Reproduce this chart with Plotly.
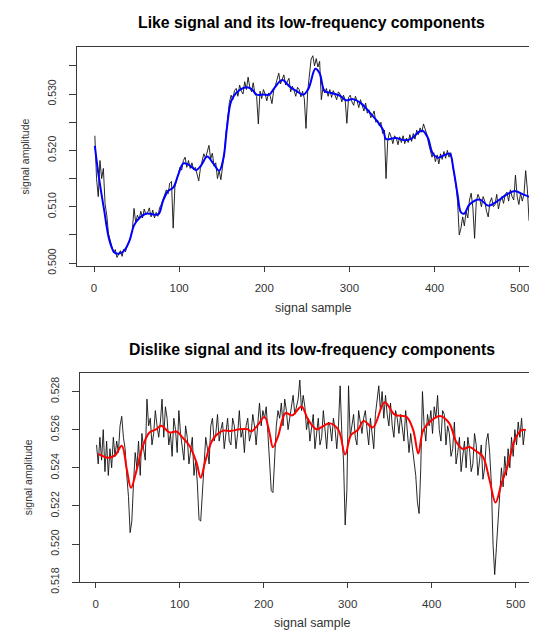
import plotly.graph_objects as go

# ---------------- data ----------------
sample_idx = list(range(1, 512, 2))

like_signal = [
    0.5226, 0.5150, 0.5118, 0.5182, 0.5150, 0.5168, 0.5105, 0.5085, 0.5052, 0.5040,
    0.5028, 0.5018, 0.5024, 0.5010, 0.5016, 0.5022, 0.5012, 0.5025, 0.5020, 0.5032,
    0.5036, 0.5045, 0.5058, 0.5097, 0.5072, 0.5085, 0.5078, 0.5092, 0.5080, 0.5096,
    0.5086, 0.5090, 0.5098, 0.5082, 0.5094, 0.5080, 0.5090, 0.5083, 0.5098, 0.5104,
    0.5112, 0.5120, 0.5130, 0.5123, 0.5142, 0.5145, 0.5062, 0.5135, 0.5148, 0.5160,
    0.5170, 0.5165, 0.5182, 0.5188, 0.5170, 0.5182, 0.5168, 0.5178, 0.5166, 0.5170,
    0.5158, 0.5146, 0.5168, 0.5182, 0.5194, 0.5186, 0.5200, 0.5209, 0.5185, 0.5195,
    0.5172, 0.5178, 0.5150, 0.5164, 0.5148, 0.5168, 0.5195, 0.5230, 0.5262, 0.5285,
    0.5298, 0.5290, 0.5306, 0.5310, 0.5296, 0.5316, 0.5305, 0.5300, 0.5322, 0.5308,
    0.5330, 0.5312, 0.5304, 0.5320, 0.5300, 0.5296, 0.5247, 0.5305, 0.5292, 0.5308,
    0.5300, 0.5288, 0.5302, 0.5296, 0.5283, 0.5306, 0.5315, 0.5326, 0.5337, 0.5318,
    0.5328, 0.5334, 0.5316, 0.5322, 0.5328, 0.5304, 0.5314, 0.5306, 0.5296, 0.5312,
    0.5308, 0.5295, 0.5305, 0.5292, 0.5239, 0.5305, 0.5330, 0.5362, 0.5368, 0.5350,
    0.5363, 0.5348, 0.5358, 0.5290, 0.5312, 0.5302, 0.5310, 0.5296, 0.5308, 0.5294,
    0.5306, 0.5296, 0.5290, 0.5304, 0.5300, 0.5286, 0.5298, 0.5290, 0.5248, 0.5294,
    0.5298, 0.5286, 0.5280, 0.5296, 0.5288, 0.5276, 0.5290, 0.5280, 0.5270, 0.5284,
    0.5266, 0.5272, 0.5258, 0.5262, 0.5270, 0.5250, 0.5254, 0.5244, 0.5250, 0.5230,
    0.5236, 0.5150, 0.5218, 0.5232, 0.5224, 0.5212, 0.5226, 0.5222, 0.5210, 0.5224,
    0.5214, 0.5226, 0.5212, 0.5222, 0.5214, 0.5228, 0.5216, 0.5230, 0.5220, 0.5236,
    0.5228, 0.5240, 0.5232, 0.5247, 0.5236, 0.5228, 0.5212, 0.5200, 0.5188, 0.5196,
    0.5180, 0.5192, 0.5176, 0.5194, 0.5184, 0.5198, 0.5186, 0.5200, 0.5188, 0.5196,
    0.5180, 0.5158, 0.5140, 0.5110, 0.5050, 0.5062, 0.5082, 0.5066, 0.5092, 0.5080,
    0.5112, 0.5124, 0.5098, 0.5044, 0.5110, 0.5122, 0.5114, 0.5100, 0.5118, 0.5110,
    0.5092, 0.5082, 0.5108, 0.5116, 0.5100, 0.5104, 0.5122, 0.5096, 0.5110, 0.5118,
    0.5106, 0.5122, 0.5126, 0.5110, 0.5130, 0.5118, 0.5112, 0.5156, 0.5118, 0.5104,
    0.5124, 0.5110, 0.5122, 0.5164, 0.5130, 0.5075,
]

like_smooth_idx = [1, 5, 12, 18, 24, 30, 36, 42, 47, 54, 62, 71, 76, 81, 87, 93, 99,
                   105, 112, 120, 126, 133, 140, 147, 152, 156, 161, 167, 179, 185,
                   191, 199, 206, 212, 221, 230, 238, 246, 252, 260, 265, 271, 279,
                   289, 296, 304, 314, 324, 334, 340, 343, 354, 365, 373, 381, 386,
                   392, 398, 404, 412, 418, 422, 427, 431, 435, 441, 453, 463, 473,
                   484, 494, 504, 512]
like_smooth = [0.5208, 0.5160, 0.5093, 0.5041, 0.5019, 0.5017, 0.5023, 0.5041, 0.5067,
               0.5081, 0.5088, 0.5086, 0.5087, 0.5110, 0.5128, 0.5134, 0.5157, 0.5177,
               0.5174, 0.5165, 0.5174, 0.5189, 0.5177, 0.5164, 0.5186, 0.5238, 0.5287,
               0.5302, 0.5312, 0.5309, 0.5299, 0.5299, 0.5299, 0.5311, 0.5325, 0.5313,
               0.5305, 0.5299, 0.5310, 0.5345, 0.5337, 0.5305, 0.5302, 0.5297, 0.5289,
               0.5291, 0.5283, 0.5267, 0.5249, 0.5235, 0.5220, 0.5222, 0.5218, 0.5221,
               0.5232, 0.5235, 0.5223, 0.5194, 0.5187, 0.5192, 0.5194, 0.5168, 0.5122,
               0.5090, 0.5088, 0.5104, 0.5113, 0.5102, 0.5109, 0.5121, 0.5128, 0.5122,
               0.5117]

dislike_signal = [
    0.5252, 0.5242, 0.5256, 0.5244, 0.5260, 0.5238, 0.5254, 0.5236, 0.5250, 0.5240,
    0.5256, 0.5246, 0.5254, 0.5248, 0.5262, 0.5267, 0.5256, 0.5250, 0.5236, 0.5225,
    0.5206, 0.5212, 0.5232, 0.5248, 0.5240, 0.5254, 0.5236, 0.5258, 0.5250, 0.5244,
    0.5276, 0.5262, 0.5266, 0.5252, 0.5258, 0.5270, 0.5262, 0.5256, 0.5264, 0.5276,
    0.5256, 0.5272, 0.5266, 0.5252, 0.5258, 0.5246, 0.5266, 0.5260, 0.5248, 0.5270,
    0.5258, 0.5252, 0.5244, 0.5262, 0.5256, 0.5242, 0.5250, 0.5256, 0.5236, 0.5244,
    0.5232, 0.5213, 0.5212, 0.5228, 0.5244, 0.5256, 0.5250, 0.5242, 0.5262, 0.5266,
    0.5254, 0.5258, 0.5268, 0.5254, 0.5260, 0.5264, 0.5250, 0.5258, 0.5266, 0.5254,
    0.5252, 0.5266, 0.5262, 0.5250, 0.5258, 0.5270, 0.5256, 0.5260, 0.5248, 0.5262,
    0.5266, 0.5254, 0.5258, 0.5268, 0.5262, 0.5252, 0.5264, 0.5274, 0.5262, 0.5270,
    0.5266, 0.5272, 0.5258, 0.5240, 0.5228, 0.5227, 0.5244, 0.5262, 0.5270, 0.5266,
    0.5274, 0.5262, 0.5276, 0.5270, 0.5260, 0.5266, 0.5274, 0.5278, 0.5268, 0.5272,
    0.5276, 0.5286, 0.5270, 0.5278, 0.5272, 0.5260, 0.5266, 0.5254, 0.5262, 0.5268,
    0.5250, 0.5258, 0.5266, 0.5252, 0.5256, 0.5270, 0.5258, 0.5250, 0.5264, 0.5262,
    0.5254, 0.5266, 0.5260, 0.5250, 0.5262, 0.5283, 0.5258, 0.5244, 0.5210, 0.5228,
    0.5283, 0.5256, 0.5262, 0.5268, 0.5256, 0.5252, 0.5270, 0.5264, 0.5258, 0.5266,
    0.5270, 0.5260, 0.5252, 0.5266, 0.5258, 0.5250, 0.5268, 0.5276, 0.5283, 0.5270,
    0.5280, 0.5266, 0.5278, 0.5268, 0.5262, 0.5274, 0.5262, 0.5256, 0.5270, 0.5266,
    0.5258, 0.5268, 0.5262, 0.5254, 0.5270, 0.5260, 0.5248, 0.5258, 0.5250, 0.5244,
    0.5236, 0.5222, 0.5216, 0.5240, 0.5280, 0.5262, 0.5254, 0.5268, 0.5262, 0.5270,
    0.5258, 0.5272, 0.5266, 0.5278, 0.5260, 0.5254, 0.5270, 0.5268, 0.5252, 0.5262,
    0.5258, 0.5246, 0.5250, 0.5264, 0.5242, 0.5248, 0.5256, 0.5238, 0.5246, 0.5254,
    0.5240, 0.5256, 0.5250, 0.5238, 0.5242, 0.5258, 0.5252, 0.5236, 0.5244, 0.5252,
    0.5234, 0.5240, 0.5254, 0.5258, 0.5248, 0.5232, 0.5200, 0.5184, 0.5198, 0.5215,
    0.5226, 0.5240, 0.5230, 0.5246, 0.5236, 0.5250, 0.5240, 0.5256, 0.5246, 0.5260,
    0.5252, 0.5264, 0.5256, 0.5266, 0.5252, 0.5260,
]

dislike_smooth_idx = [3, 15, 23, 31, 37, 42, 48, 56, 64, 72, 78, 88, 96, 104, 112, 120,
                      125, 130, 138, 144, 152, 161, 171, 181, 185, 193, 201, 207, 211,
                      217, 226, 234, 245, 252, 259, 263, 279, 289, 297, 304, 312, 319,
                      330, 344, 356, 370, 378, 384, 390, 400, 410, 421, 429, 437, 445,
                      453, 461, 469, 476, 483, 491, 499, 507, 512]
dislike_smooth = [0.52473, 0.52453, 0.52465, 0.52516, 0.52393, 0.52295, 0.52376, 0.52513,
                  0.52585, 0.52602, 0.52621, 0.52585, 0.52590, 0.52556, 0.52513, 0.52427,
                  0.52348, 0.52427, 0.52538, 0.52573, 0.52595, 0.52593, 0.52602, 0.52602,
                  0.52590, 0.52624, 0.52667, 0.52581, 0.52508, 0.52564, 0.52687, 0.52675,
                  0.52722, 0.52660, 0.52615, 0.52602, 0.52633, 0.52598, 0.52470, 0.52573,
                  0.52598, 0.52646, 0.52612, 0.52744, 0.52679, 0.52667, 0.52598, 0.52475,
                  0.52598, 0.52650, 0.52672, 0.52633, 0.52538, 0.52499, 0.52509, 0.52487,
                  0.52458, 0.52333, 0.52218, 0.52316, 0.52418, 0.52547, 0.52598, 0.52598]

x_ticks = [0, 100, 200, 300, 400, 500]
like_y_ticks = [0.500, 0.505, 0.510, 0.515, 0.520, 0.525, 0.530, 0.535]
like_y_labels = ["0.500", "", "0.510", "", "0.520", "", "0.530", ""]
dislike_y_ticks = [0.518, 0.520, 0.522, 0.524, 0.526, 0.528]
dislike_y_labels = ["0.518", "0.520", "0.522", "0.524", "0.526", "0.528"]

titles = ["Like signal and its low-frequency components",
          "Dislike signal and its low-frequency components"]
x_title = "signal sample"
y_title = "signal amplitude"

# ---------------- figure ----------------
W, H = 537, 633
FONT = "Liberation Sans, Arial, sans-serif"
AX = "#3a3a3a"

fig = go.Figure()
fig.add_trace(go.Scatter(x=sample_idx, y=like_signal, mode="lines",
                         line=dict(color="#111111", width=0.9), xaxis="x", yaxis="y"))
fig.add_trace(go.Scatter(x=like_smooth_idx, y=like_smooth, mode="lines",
                         line=dict(color="#0000FF", width=2, shape="spline"),
                         xaxis="x", yaxis="y"))
fig.add_trace(go.Scatter(x=sample_idx, y=dislike_signal, mode="lines",
                         line=dict(color="#111111", width=0.9), xaxis="x2", yaxis="y2"))
fig.add_trace(go.Scatter(x=dislike_smooth_idx, y=dislike_smooth, mode="lines",
                         line=dict(color="#FF0000", width=2, shape="spline"),
                         xaxis="x2", yaxis="y2"))


def px_x(p):
    return p / W


def px_y(p):
    return 1 - p / H


common_x = dict(showgrid=False, zeroline=False, showline=True, linecolor=AX, linewidth=1,
                ticks="outside", ticklen=5, tickcolor=AX, tickvals=x_ticks,
                tickfont=dict(family=FONT, size=11.5, color="#333"),
                ticklabelstandoff=6)
common_y = dict(showgrid=False, zeroline=False, showline=True, linecolor=AX, linewidth=1,
                ticks="outside", ticklen=7, tickcolor=AX, tickangle=-90,
                tickfont=dict(family=FONT, size=10.5, color="#333"),
                ticklabelstandoff=9)

fig.update_layout(
    width=W, height=H,
    margin=dict(l=0, r=0, t=0, b=0),
    paper_bgcolor="white", plot_bgcolor="white",
    showlegend=False,
    xaxis=dict(common_x, domain=[px_x(69), 1.0], range=[-19.97, 529.7],
               mirror=True, anchor="y"),
    yaxis=dict(common_y, domain=[px_y(263.3), px_y(39.3)], range=[0.49943, 0.53843],
               tickvals=like_y_ticks, ticktext=like_y_labels, anchor="x"),
    xaxis2=dict(common_x, domain=[px_x(72.3), px_x(535.7)], range=[-18.33, 533.33],
                mirror=True, anchor="y2"),
    yaxis2=dict(common_y, domain=[px_y(585.3), px_y(371.7)], range=[0.518, 0.52899],
                tickvals=dislike_y_ticks, ticktext=dislike_y_labels, mirror=True,
                anchor="x2"),
)

ann = []
for t, cx, cy in [(titles[0], 303.5, 15), (titles[1], 303.8, 348.3)]:
    ann.append(dict(text="<b>%s</b>" % t, x=px_x(cx), y=px_y(cy), xref="paper",
                    yref="paper", xanchor="center", yanchor="middle", showarrow=False,
                    font=dict(family=FONT, size=15.8, color="black")))
for cx, cy in [(304.5, 306), (303.7, 626.7)]:
    ann.append(dict(text=x_title, x=px_x(cx), y=px_y(cy), xref="paper", yref="paper",
                    xanchor="center", yanchor="middle", showarrow=False,
                    font=dict(family=FONT, size=12.5, color="#333")))
for cx, cy in [(16.7, 151.7), (20, 478.3)]:
    ann.append(dict(text=y_title, x=px_x(cx), y=px_y(cy), xref="paper", yref="paper",
                    xanchor="center", yanchor="middle", showarrow=False, textangle=-90,
                    font=dict(family=FONT, size=10.5, color="#333")))
fig.update_layout(annotations=ann)

fig.write_html("out.html")
